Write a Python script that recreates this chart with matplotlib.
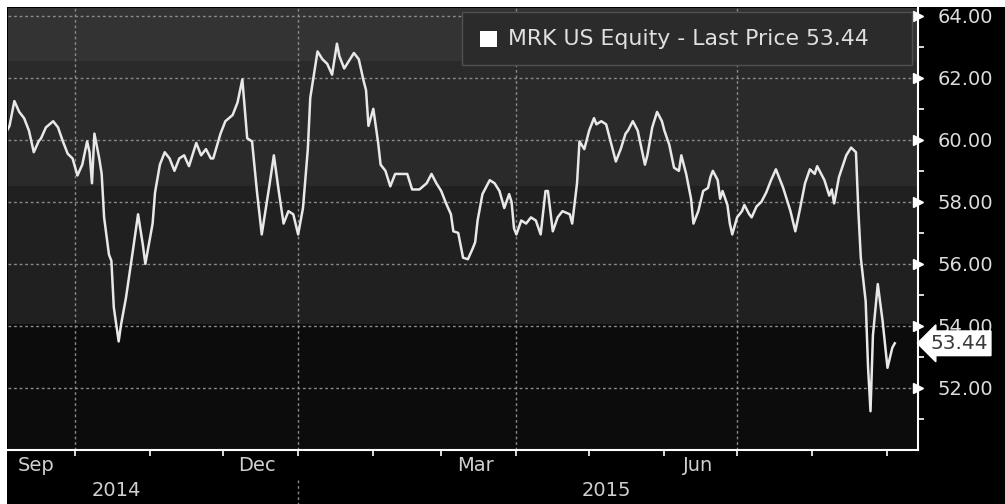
import matplotlib
matplotlib.use("Agg")
import matplotlib.pyplot as plt
import matplotlib.dates as mdates
import matplotlib.transforms as mtransforms
from matplotlib.patches import Rectangle
import numpy as np
import pandas as pd

ticker = "MRK US Equity"
dates = [
    "2014-09-03", "2014-09-04", "2014-09-06", "2014-09-08", "2014-09-10", "2014-09-12", "2014-09-14", "2014-09-16",
    "2014-09-17", "2014-09-19", "2014-09-22", "2014-09-24", "2014-09-26", "2014-09-28", "2014-09-30",
    "2014-10-02", "2014-10-04", "2014-10-06", "2014-10-07", "2014-10-08", "2014-10-09", "2014-10-11", "2014-10-12",
    "2014-10-13", "2014-10-15", "2014-10-16", "2014-10-17", "2014-10-19", "2014-10-20", "2014-10-22", "2014-10-25",
    "2014-10-27", "2014-10-29", "2014-10-30",
    "2014-11-02", "2014-11-03", "2014-11-05", "2014-11-07", "2014-11-09", "2014-11-11", "2014-11-13", "2014-11-15",
    "2014-11-17", "2014-11-20", "2014-11-22", "2014-11-24", "2014-11-26", "2014-11-27", "2014-11-30",
    "2014-12-02", "2014-12-05", "2014-12-07", "2014-12-09", "2014-12-11", "2014-12-13", "2014-12-15", "2014-12-17",
    "2014-12-20", "2014-12-22", "2014-12-24", "2014-12-26", "2014-12-28", "2014-12-30",
    "2015-01-01", "2015-01-03", "2015-01-05", "2015-01-06", "2015-01-09", "2015-01-11", "2015-01-13", "2015-01-15",
    "2015-01-17", "2015-01-18", "2015-01-20", "2015-01-22", "2015-01-24", "2015-01-26", "2015-01-28", "2015-01-29",
    "2015-01-30",
    "2015-02-01", "2015-02-03", "2015-02-04", "2015-02-06", "2015-02-08", "2015-02-10", "2015-02-12", "2015-02-15",
    "2015-02-17", "2015-02-20", "2015-02-23", "2015-02-25", "2015-02-27",
    "2015-03-01", "2015-03-03", "2015-03-05", "2015-03-06", "2015-03-08", "2015-03-10", "2015-03-12", "2015-03-14",
    "2015-03-15", "2015-03-16", "2015-03-18", "2015-03-21", "2015-03-23", "2015-03-25", "2015-03-27", "2015-03-29",
    "2015-03-30", "2015-03-31",
    "2015-04-01", "2015-04-03", "2015-04-05", "2015-04-07", "2015-04-09", "2015-04-11", "2015-04-13", "2015-04-14",
    "2015-04-16", "2015-04-18", "2015-04-20", "2015-04-23", "2015-04-24", "2015-04-26", "2015-04-27", "2015-04-29",
    "2015-05-01", "2015-05-03", "2015-05-04", "2015-05-06", "2015-05-08", "2015-05-09", "2015-05-12", "2015-05-14",
    "2015-05-16", "2015-05-17", "2015-05-19", "2015-05-21", "2015-05-24", "2015-05-25", "2015-05-27", "2015-05-29",
    "2015-05-31",
    "2015-06-01", "2015-06-03", "2015-06-05", "2015-06-07", "2015-06-08", "2015-06-10", "2015-06-12", "2015-06-13",
    "2015-06-15", "2015-06-17", "2015-06-19", "2015-06-20", "2015-06-21", "2015-06-23", "2015-06-24", "2015-06-25",
    "2015-06-27", "2015-06-28", "2015-06-29",
    "2015-07-01", "2015-07-03", "2015-07-04", "2015-07-06", "2015-07-07", "2015-07-09", "2015-07-11", "2015-07-13",
    "2015-07-15", "2015-07-17", "2015-07-20", "2015-07-23", "2015-07-25", "2015-07-27", "2015-07-29", "2015-07-31",
    "2015-08-02", "2015-08-03", "2015-08-06", "2015-08-08", "2015-08-09", "2015-08-10", "2015-08-12", "2015-08-15",
    "2015-08-17", "2015-08-19", "2015-08-20", "2015-08-21", "2015-08-23", "2015-08-24", "2015-08-25", "2015-08-26",
    "2015-08-28", "2015-08-30",
    "2015-09-01", "2015-09-03", "2015-09-04",
]
prices = [
    60.3, 60.45, 61.25, 60.9, 60.7, 60.3, 59.6, 59.95, 60.05, 60.4, 60.6, 60.4, 59.95, 59.55, 59.4,
    58.85, 59.2, 59.95, 59.6, 58.6, 60.2, 59.4, 58.9, 57.5, 56.3, 56.1, 54.6, 53.5, 54.05, 54.9, 56.5, 57.6, 56.6, 56.0,
    57.3, 58.3, 59.2, 59.6, 59.4, 59.0, 59.4, 59.5, 59.15, 59.9, 59.5, 59.7, 59.4, 59.4, 60.2,
    60.6, 60.8, 61.2, 61.95, 60.05, 59.95, 58.35, 56.95, 58.45, 59.5, 58.35, 57.3, 57.7, 57.6,
    56.95, 57.8, 59.7, 61.35, 62.85, 62.6, 62.45, 62.1, 63.1, 62.7, 62.3, 62.55, 62.8, 62.6, 61.9, 61.6, 60.45,
    61.0, 59.9, 59.2, 59.0, 58.5, 58.9, 58.9, 58.9, 58.4, 58.4, 58.6, 58.9, 58.6,
    58.35, 57.95, 57.6, 57.05, 57.0, 56.2, 56.15, 56.5, 56.7, 57.4, 58.25, 58.7, 58.6, 58.35, 57.8, 58.25, 58.0, 57.15,
    56.95, 57.4, 57.3, 57.5, 57.4, 56.95, 58.35, 58.35, 57.05, 57.5, 57.7, 57.6, 57.3, 58.6, 59.95, 59.7,
    60.3, 60.7, 60.5, 60.6, 60.5, 60.2, 59.3, 59.7, 60.2, 60.3, 60.6, 60.3, 59.2, 59.5, 60.4, 60.9, 60.6,
    60.3, 59.85, 59.1, 59.0, 59.5, 58.9, 58.1, 57.3, 57.7, 58.35, 58.45, 58.8, 59.0, 58.7, 58.1, 58.35, 57.9, 57.3, 56.95,
    57.5, 57.7, 57.9, 57.6, 57.5, 57.85, 58.0, 58.3, 58.7, 59.05, 58.45, 57.7, 57.05, 57.8, 58.6, 59.05,
    58.9, 59.15, 58.7, 58.2, 58.4, 57.95, 58.8, 59.5, 59.75, 59.6, 57.7, 56.2, 54.8, 52.65, 51.25, 53.7, 55.35, 54.15,
    52.65, 53.3, 53.44,
]
y_ticks = [52, 54, 56, 58, 60, 62, 64]
y_minor = [51, 53, 55, 57, 59, 61, 63]
quarter_lines = ["2014-10-01", "2015-01-01", "2015-04-01", "2015-07-01"]
month_labels = ["Sep", "Dec", "Mar", "Jun"]
month_label_dates = ["2014-09-15", "2014-12-15", "2015-03-15", "2015-06-15"]
year_labels = ["2014", "2015"]
year_label_dates = ["2014-10-18", "2015-05-08"]
year_separator = "2015-01-01"

x = pd.to_datetime(dates)
fig = plt.figure(figsize=(10.05, 5.04), dpi=100, facecolor="black")
ax = fig.add_axes([8 / 1005, 54 / 504, 910 / 1005, 442 / 504])
ax.set_facecolor("#111111")

x0 = mdates.date2num(pd.Timestamp("2014-09-03 09:00"))
x1 = mdates.date2num(pd.Timestamp("2015-09-13 14:00"))
ylo, yhi = 50.0, 64.25
ax.set_xlim(x0, x1)
ax.set_ylim(ylo, yhi)

# banded background
ys = np.linspace(ylo, yhi, 600)
shade = np.where(ys > 62.55, 0.20, np.where(ys > 58.5, 0.165, np.where(ys > 54.05, 0.125, 0.05)))
img = np.repeat(shade[:, None], 2, axis=1)
ax.imshow(img, extent=[x0, x1, ylo, yhi], origin="lower", aspect="auto", cmap="gray",
          vmin=0, vmax=1, zorder=0, interpolation="nearest")

# grid
for yt in y_ticks:
    ax.axhline(yt, color="#8a8a8a", lw=1.0, ls=(0, (2, 2)), zorder=1)
for q in quarter_lines:
    ax.axvline(pd.Timestamp(q), color="#8a8a8a", lw=1.0, ls=(0, (2, 2)), zorder=1)

ax.plot(x, prices, color="#e8e8e8", lw=1.8, zorder=3, solid_joinstyle="round")

# spines
for s in ["top", "left"]:
    ax.spines[s].set_visible(False)
for s in ["right", "bottom"]:
    ax.spines[s].set_color("white")
    ax.spines[s].set_linewidth(1.5)

ax.yaxis.tick_right()
ax.set_yticks(y_ticks)
ax.set_yticklabels([f"{v:.2f}" for v in y_ticks])
ax.set_yticks(y_minor, minor=True)
ax.tick_params(axis="y", which="major", length=0, pad=14, labelsize=14, labelcolor="#dcdcdc")
ax.tick_params(axis="y", which="minor", length=4, width=1.2, color="white")
tri = mtransforms.blended_transform_factory(ax.transAxes, ax.transData)
ax.plot([1.0] * len(y_ticks), y_ticks, ls="none", marker=">", ms=7, color="white",
        transform=tri, clip_on=False, zorder=5)

ax.xaxis.set_major_locator(mdates.MonthLocator())
ax.xaxis.set_major_formatter(plt.NullFormatter())
ax.tick_params(axis="x", which="major", length=4, width=1.2, color="white", direction="out")

bt = mtransforms.blended_transform_factory(ax.transData, ax.transAxes)
for lab, d in zip(month_labels, month_label_dates):
    ax.text(pd.Timestamp(d), -0.036, lab, transform=bt, ha="center", va="center",
            fontsize=14, color="#d0d0d0")
for lab, d in zip(year_labels, year_label_dates):
    ax.text(pd.Timestamp(d), -0.092, lab, transform=bt, ha="center", va="center",
            fontsize=14, color="#d0d0d0")
ax.plot([pd.Timestamp(year_separator)] * 2, [-0.068, -0.125], transform=bt, color="#8a8a8a",
        lw=1.0, ls=(0, (2, 2)), clip_on=False)

# legend box
ax.add_patch(Rectangle((0.499, 0.871), 0.494, 0.12, transform=ax.transAxes, facecolor="#2b2b2b",
                       edgecolor="#505050", lw=1.0, zorder=6))
ax.add_patch(Rectangle((0.519, 0.912), 0.018, 0.036, transform=ax.transAxes, facecolor="white",
                       edgecolor="none", zorder=7))
ax.text(0.549, 0.929, f"{ticker} - Last Price {prices[-1]:.2f}", transform=ax.transAxes,
        ha="left", va="center", fontsize=15.8, color="#e0e0e0", zorder=7)

# last price tag
ax.annotate(f"{prices[-1]:.2f}", xy=(1.0, prices[-1]), xycoords=tri, xytext=(9, 0),
            textcoords="offset points", ha="left", va="center", fontsize=14.5, color="#3a3a3a",
            bbox=dict(boxstyle="larrow,pad=0.14", fc="white", ec="white"), annotation_clip=False, zorder=8)

# white frame strips (screenshot edges)
fig.patches.append(Rectangle((0, 1 - 7 / 504), 1, 7 / 504, transform=fig.transFigure,
                             facecolor="white", edgecolor="none", zorder=10))
fig.patches.append(Rectangle((0, 0), 7 / 1005, 1, transform=fig.transFigure,
                             facecolor="white", edgecolor="none", zorder=10))

fig.savefig("out.png", dpi=100, facecolor="black")
